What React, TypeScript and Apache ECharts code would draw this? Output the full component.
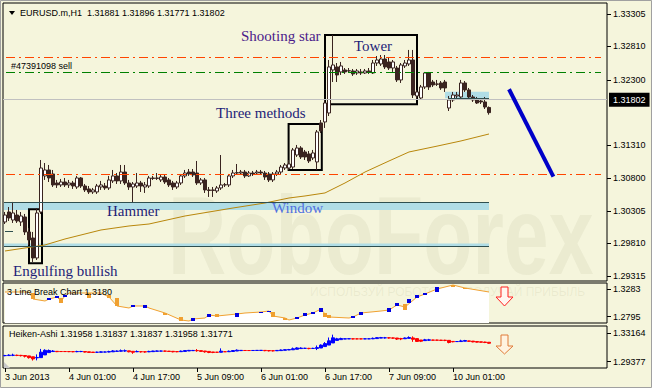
import React, { useEffect, useRef } from 'react';
import * as echarts from 'echarts';

// ---------- data ----------
const timeLabels = ['3 Jun 2013', '4 Jun 01:00', '4 Jun 17:00', '5 Jun 09:00', '6 Jun 01:00', '6 Jun 17:00', '7 Jun 09:00', '10 Jun 01:00'];
const LABEL_STEP = 16;
const SLOT_COUNT = 151;

// EURUSD H1 candles: [open, close, low, high]
const ohlc = [
  [1.30137, 1.30243, 1.30106, 1.30289], [1.30289, 1.30198, 1.30152, 1.30365], [1.30167, 1.30274, 1.30122, 1.30442],
  [1.30243, 1.30152, 1.30122, 1.30320], [1.30137, 1.30228, 1.30076, 1.30289], [1.30213, 1.29985, 1.29939, 1.30259],
  [1.29985, 1.29863, 1.29787, 1.30046], [1.29893, 1.29589, 1.29528, 1.29985], [1.29589, 1.30274, 1.29558, 1.30350],
  [1.30289, 1.30959, 1.30259, 1.31081], [1.30838, 1.30929, 1.30777, 1.31035], [1.30929, 1.30807, 1.30746, 1.31005],
  [1.30868, 1.30701, 1.30670, 1.30929], [1.30731, 1.30701, 1.30655, 1.30777], [1.30701, 1.30746, 1.30670, 1.30792],
  [1.30746, 1.30701, 1.30670, 1.30807], [1.30701, 1.30731, 1.30655, 1.30777], [1.30731, 1.30685, 1.30640, 1.30762],
  [1.30670, 1.30807, 1.30640, 1.30838], [1.30807, 1.30685, 1.30655, 1.30822], [1.30685, 1.30625, 1.30594, 1.30716],
  [1.30640, 1.30594, 1.30564, 1.30685], [1.30594, 1.30625, 1.30564, 1.30655], [1.30594, 1.30685, 1.30564, 1.30716],
  [1.30670, 1.30701, 1.30625, 1.30762], [1.30685, 1.30655, 1.30625, 1.30731], [1.30655, 1.30777, 1.30625, 1.30838],
  [1.30762, 1.30838, 1.30731, 1.30929], [1.30838, 1.30762, 1.30716, 1.30883], [1.30762, 1.30898, 1.30716, 1.31005],
  [1.30898, 1.30731, 1.30701, 1.31005], [1.30731, 1.30670, 1.30625, 1.30777], [1.30670, 1.30716, 1.30426, 1.30746],
  [1.30685, 1.30731, 1.30655, 1.30883], [1.30731, 1.30685, 1.30594, 1.30762], [1.30670, 1.30701, 1.30579, 1.30746],
  [1.30685, 1.30807, 1.30655, 1.30838], [1.30807, 1.30800, 1.30777, 1.30838], [1.30800, 1.30807, 1.30777, 1.30883],
  [1.30777, 1.30822, 1.30746, 1.30853], [1.30822, 1.30746, 1.30716, 1.30853], [1.30777, 1.30701, 1.30670, 1.30807],
  [1.30731, 1.30670, 1.30625, 1.30762], [1.30670, 1.30731, 1.30640, 1.30762], [1.30731, 1.30838, 1.30701, 1.30868],
  [1.30838, 1.30883, 1.30807, 1.30929], [1.30898, 1.30868, 1.30838, 1.30944], [1.30898, 1.30853, 1.30822, 1.30944],
  [1.30883, 1.30731, 1.30701, 1.31066], [1.30731, 1.30777, 1.30701, 1.30807], [1.30777, 1.30625, 1.30579, 1.30807],
  [1.30625, 1.30617, 1.30518, 1.30670], [1.30617, 1.30625, 1.30518, 1.30670], [1.30609, 1.30655, 1.30579, 1.30685],
  [1.30655, 1.30701, 1.30625, 1.31157], [1.30701, 1.30705, 1.30670, 1.30731], [1.30701, 1.30838, 1.30670, 1.30868],
  [1.30838, 1.30883, 1.30807, 1.30929], [1.30883, 1.30888, 1.30853, 1.31020], [1.30883, 1.30898, 1.30853, 1.30929],
  [1.30898, 1.30838, 1.30807, 1.30929], [1.30838, 1.30883, 1.30822, 1.30914], [1.30883, 1.30868, 1.30838, 1.30914],
  [1.30883, 1.30898, 1.30853, 1.30929], [1.30898, 1.30883, 1.30853, 1.30929], [1.30883, 1.30822, 1.30777, 1.30914],
  [1.30868, 1.30777, 1.30746, 1.30898], [1.30777, 1.30868, 1.30746, 1.30898], [1.30868, 1.30898, 1.30838, 1.30929],
  [1.30898, 1.30974, 1.30868, 1.31005], [1.30959, 1.31005, 1.30929, 1.31035], [1.30959, 1.31020, 1.30929, 1.31081],
  [1.30974, 1.31234, 1.30944, 1.31264], [1.31157, 1.31264, 1.31127, 1.31310], [1.31264, 1.31127, 1.31096, 1.31292],
  [1.31203, 1.31127, 1.31081, 1.31234], [1.31173, 1.31066, 1.31035, 1.31218], [1.31112, 1.31188, 1.31081, 1.31234],
  [1.31051, 1.31508, 1.30929, 1.31538], [1.31645, 1.31523, 1.31492, 1.31690], [1.31660, 1.31949, 1.31569, 1.31995],
  [1.31797, 1.32498, 1.31751, 1.32604], [1.32452, 1.32528, 1.32269, 1.32985], [1.32498, 1.32376, 1.32269, 1.32558],
  [1.32422, 1.32513, 1.32376, 1.32574], [1.32452, 1.32422, 1.32391, 1.32482], [1.32437, 1.32441, 1.32406, 1.32482],
  [1.32437, 1.32391, 1.32361, 1.32467], [1.32406, 1.32437, 1.32376, 1.32467], [1.32422, 1.32406, 1.32376, 1.32467],
  [1.32406, 1.32437, 1.32391, 1.32467], [1.32437, 1.32422, 1.32391, 1.32482], [1.32406, 1.32558, 1.32391, 1.32604],
  [1.32558, 1.32604, 1.32513, 1.32665], [1.32543, 1.32619, 1.32513, 1.32680], [1.32619, 1.32498, 1.32467, 1.32680],
  [1.32574, 1.32482, 1.32452, 1.32650], [1.32482, 1.32574, 1.32422, 1.32604], [1.32482, 1.32300, 1.32269, 1.32513],
  [1.32300, 1.32528, 1.32254, 1.32558], [1.32513, 1.32558, 1.32482, 1.32604], [1.32543, 1.32604, 1.32513, 1.32757],
  [1.32604, 1.32071, 1.32025, 1.32757], [1.32056, 1.32117, 1.32010, 1.32148], [1.32025, 1.32193, 1.31995, 1.32224],
  [1.32193, 1.32406, 1.32163, 1.32422], [1.32406, 1.32193, 1.32148, 1.32422], [1.32269, 1.32224, 1.32193, 1.32300],
  [1.32239, 1.32235, 1.32208, 1.32300], [1.32254, 1.32178, 1.32148, 1.32284], [1.32269, 1.32178, 1.32117, 1.32300],
  [1.31873, 1.31995, 1.31827, 1.32056], [1.31995, 1.32071, 1.31965, 1.32117], [1.32056, 1.32071, 1.32025, 1.32117],
  [1.32041, 1.32254, 1.32010, 1.32300], [1.32254, 1.32148, 1.32117, 1.32284], [1.32148, 1.32041, 1.32010, 1.32178],
  [1.32041, 1.31995, 1.31965, 1.32071], [1.32010, 1.31949, 1.31934, 1.32041], [1.31980, 1.31965, 1.31934, 1.32010],
  [1.31965, 1.31888, 1.31858, 1.32041], [1.31881, 1.31802, 1.31771, 1.31896],
];

// moving average (read at bar indices)
const maIndex = [0, 10, 15, 24, 31, 36, 45, 57, 65, 71, 75, 80, 82, 85, 90, 96, 101, 108, 114, 121];
const maValues = [1.29695, 1.29787, 1.29878, 1.30015, 1.30076, 1.30106, 1.30228, 1.30350, 1.30426, 1.30502,
  1.30533, 1.30579, 1.30640, 1.30731, 1.30898, 1.31066, 1.31203, 1.31292, 1.31371, 1.31477];

const priceTicks = [1.33305, 1.32810, 1.32300, 1.31310, 1.30800, 1.30305, 1.29810, 1.29315];
const lastPrice = 1.31802;
const redLevels = [1.32650, 1.30863];
const sellLevel = 1.32417;
// bands: [fromIndex, toIndex, top, bottom]
const cyanBands = [[-0.25, 121, 1.30442, 1.30320], [-0.25, 121, 1.29810, 1.29772], [110, 121, 1.32122, 1.32021]];
// dark lines: [fromIndex, toIndex, price]
const bandLines = [[-0.25, 121, 1.30442], [-0.25, 121, 1.29768], [110.75, 121, 1.32025], [0, 2, 1.30000]];
// pattern boxes: [fromIndex, toIndex, top, bottom]
const patternBoxes = [[6, 9.25, 1.30330, 1.29508], [70.9, 79.2, 1.31629, 1.30929], [80, 103, 1.32985, 1.31930]];
// forecast trend line: [index, price]
const trendLine = [[126, 1.32158], [137.1, 1.30827]];

// 3 Line Break panel
const lbIndex = [0, 6, 7, 10, 11, 13, 14, 15, 16, 24, 26, 28, 31, 32, 35, 36, 40, 44, 46, 47, 50, 51, 53, 58, 60, 64, 66, 67,
  70, 71, 73, 75, 77, 79, 80, 81, 86, 87, 89, 94, 96, 98, 100, 103, 105, 108, 111, 112, 115, 121];
const lbValues = [1.32349, 1.32349, 1.31102, 1.30746, 1.31102, 1.31458, 1.30746, 1.31636, 1.32171, 1.32171, 1.31458, 1.29856,
  1.29499, 1.29856, 1.29856, 1.29499, 1.28609, 1.27362, 1.27184, 1.27540, 1.27718, 1.28253, 1.28074, 1.28431, 1.28609,
  1.28787, 1.28965, 1.28074, 1.27718, 1.27362, 1.27718, 1.28253, 1.28609, 1.29321, 1.28431, 1.27896, 1.27718, 1.27896,
  1.28609, 1.28965, 1.29143, 1.30034, 1.29677, 1.31458, 1.31993, 1.32883, 1.33417, 1.33595, 1.33061, 1.32349];
// blocks: [index, top, bottom]
const lbUpBlocks = [[11, 1.31280, 1.30924], [13, 1.31636, 1.31280], [15, 1.31814, 1.31458], [32, 1.30034, 1.29677],
  [35, 1.30034, 1.29499], [47, 1.27718, 1.27184], [51, 1.28431, 1.27896], [58, 1.28609, 1.27896], [64, 1.28787, 1.28609],
  [66, 1.28965, 1.28787], [73, 1.27896, 1.27540], [75, 1.28609, 1.28074], [77, 1.28787, 1.28431], [79, 1.29499, 1.28787],
  [87, 1.28074, 1.27718], [89, 1.28787, 1.28253], [96, 1.29499, 1.28787], [98, 1.30390, 1.29856], [101, 1.31102, 1.30390],
  [103, 1.31814, 1.31280], [105, 1.32171, 1.31814], [108, 1.33239, 1.32349]];
const lbDownBlocks = [[7, 1.32171, 1.31102], [14, 1.31280, 1.30390], [21, 1.32171, 1.31280], [26, 1.31814, 1.31280],
  [28, 1.31280, 1.29856], [40, 1.28609, 1.28253], [44, 1.27896, 1.27184], [53, 1.28431, 1.27896], [67, 1.28787, 1.27896],
  [70, 1.27718, 1.27362], [80, 1.28609, 1.27896], [81, 1.28253, 1.27718], [100, 1.30212, 1.29143], [112, 1.33595, 1.33239],
  [115, 1.33061, 1.32883]];
const lbTicks = [1.3283, 1.2795];
const haTicks = [1.33164, 1.29377];

const BG = '#F5F5DC';
const SANS = 'Liberation Sans';
const SERIF = 'Liberation Serif';

export default function App() {
  const ref = useRef<HTMLDivElement>(null);
  useEffect(() => {
    if (!ref.current) return;
    document.body.style.margin = '0';
    const chart = echarts.init(ref.current, undefined, { renderer: 'svg' });

    const categories = Array.from({ length: SLOT_COUNT }, (_, i) =>
      i % LABEL_STEP === 0 && i / LABEL_STEP < timeLabels.length ? timeLabels[i / LABEL_STEP] : '');
    const showLabel = (_i: number, v: string) => v !== '';

    // Heiken-Ashi derived from the candles
    const ha: number[][] = [];
    let po = 0, pc = 0;
    ohlc.forEach(([o, c, l, h], i) => {
      const hc = (o + c + l + h) / 4;
      const ho = i === 0 ? (o + c) / 2 : (po + pc) / 2;
      ha.push([ho, hc, Math.min(l, ho, hc), Math.max(h, ho, hc)]);
      po = ho; pc = hc;
    });

    const blockRender = (color: string) => (params: any, api: any) => {
      const x = api.value(0);
      const a = api.coord([x, api.value(1)]);
      const b = api.coord([x, api.value(2)]);
      return { type: 'rect', shape: { x: a[0] - 2, y: a[1], width: 4, height: Math.max(1, b[1] - a[1]) }, style: { fill: color } };
    };

    const dashDot = [9, 4, 2, 4];
    const txt = (text: string, x: number, y: number, fill: string, fontSize: number, fontFamily: string, extra: any = {}) => ({
      type: 'text', x, y, z: 100, silent: true,
      style: { text, fill, fontSize, fontFamily, verticalAlign: 'middle', ...extra },
    });
    const yAxisBase = (grid: number, min: number, max: number, ticks: number[], digits: number) => ({
      type: 'value', gridIndex: grid, position: 'right', min, max, splitLine: { show: false },
      axisLine: { show: false, onZero: false },
      axisTick: { show: true, customValues: ticks, length: 4, lineStyle: { color: '#000' } },
      axisLabel: { customValues: ticks, formatter: (v: number) => v.toFixed(digits), margin: 6, fontSize: 9, fontFamily: SANS, color: '#000' },
    });

    const option: any = {
      animation: false,
      backgroundColor: BG,
      grid: [
        { left: 3, top: 3, width: 604, height: 278, show: true, borderColor: '#000', borderWidth: 1 },
        { left: 3, top: 283, width: 604, height: 40, show: true, borderColor: '#000', borderWidth: 1 },
        { left: 3, top: 326, width: 604, height: 42, show: true, borderColor: '#000', borderWidth: 1 },
      ],
      xAxis: [
        { type: 'category', gridIndex: 0, data: categories, show: false, boundaryGap: true },
        { type: 'value', gridIndex: 0, min: -0.5, max: SLOT_COUNT - 0.5, show: false },
        { type: 'value', gridIndex: 1, min: -0.5, max: SLOT_COUNT - 0.5, show: false },
        {
          type: 'category', gridIndex: 2, data: categories, boundaryGap: true, position: 'bottom',
          axisLine: { show: false, onZero: false },
          axisTick: { show: true, interval: showLabel, alignWithLabel: true, length: 4, lineStyle: { color: '#000' } },
          axisLabel: { interval: showLabel, align: 'left', margin: 4, fontSize: 9, fontFamily: SANS, color: '#000' },
          splitLine: { show: false },
        },
      ],
      yAxis: [
        yAxisBase(0, 1.29238, 1.33472, priceTicks, 5),
        yAxisBase(1, 1.26828, 1.33952, lbTicks, 4),
        yAxisBase(2, 1.28538, 1.34137, haTicks, 5),
      ],
      series: [
        // background bands + level lines
        {
          type: 'scatter', xAxisIndex: 1, yAxisIndex: 0, data: [[0, 1.31]], symbolSize: 0, z: 1, silent: true,
          markArea: {
            silent: true, z: 1,
            itemStyle: { color: '#B0DDE6' },
            data: cyanBands.map((b) => [{ xAxis: b[0], yAxis: b[2] }, { xAxis: b[1], yAxis: b[3] }]),
          },
          markLine: {
            silent: true, symbol: ['none', 'none'], label: { show: false },
            data: [
              ...bandLines.map((l) => [
                { coord: [l[0], l[2]], lineStyle: { color: '#2F4F4F', width: 1, type: 'solid' } },
                { coord: [l[1], l[2]] },
              ]),
              ...redLevels.map((p) => [
                { coord: [0.25, p], lineStyle: { color: '#FF4500', width: 1, type: dashDot } },
                { coord: [149, p] },
              ]),
              [
                { coord: [0.25, sellLevel], lineStyle: { color: '#008000', width: 1, type: dashDot } },
                { coord: [149, sellLevel] },
              ],
              {
                yAxis: lastPrice, lineStyle: { color: '#C0C0C0', width: 1, type: 'solid' },
                label: {
                  show: true, position: 'end', formatter: lastPrice.toFixed(5), distance: 2,
                  backgroundColor: '#000', color: '#fff', padding: [3, 4, 2, 4], fontSize: 9, fontFamily: SANS,
                },
              },
            ],
          },
        },
        {
          type: 'candlestick', xAxisIndex: 0, yAxisIndex: 0, data: ohlc, barWidth: 3, z: 3,
          itemStyle: { color: '#FFFFFF', color0: '#3A2420', borderColor: '#3A2420', borderColor0: '#3A2420', borderWidth: 1 },
        },
        {
          type: 'line', xAxisIndex: 1, yAxisIndex: 0, data: maIndex.map((x, i) => [x, maValues[i]]),
          symbol: 'none', z: 4, lineStyle: { color: '#B8860B', width: 1 },
        },
        // pattern boxes + forecast line
        {
          type: 'scatter', xAxisIndex: 1, yAxisIndex: 0, data: [[0, 1.31]], symbolSize: 0, z: 6, silent: true,
          markArea: {
            silent: true,
            itemStyle: { color: 'rgba(0,0,0,0)', borderColor: '#000', borderWidth: 2 },
            data: patternBoxes.map((b) => [{ xAxis: b[0], yAxis: b[2] }, { xAxis: b[1], yAxis: b[3] }]),
          },
          markLine: {
            silent: true, symbol: ['none', 'none'], label: { show: false },
            lineStyle: { color: '#0000C8', width: 4, type: 'solid' },
            data: [[{ coord: trendLine[0] }, { coord: trendLine[1] }]],
          },
        },
        // 3 line break
        {
          type: 'line', xAxisIndex: 2, yAxisIndex: 1, data: lbIndex.map((x, i) => [x, lbValues[i]]),
          symbol: 'none', z: 2, lineStyle: { color: '#F0A030', width: 1 },
          areaStyle: { color: '#FFFFFF', opacity: 1, origin: 'start' },
        },
        {
          type: 'custom', xAxisIndex: 2, yAxisIndex: 1, data: lbUpBlocks, z: 3,
          encode: { x: 0, y: [1, 2] }, renderItem: blockRender('#0000E0'),
        },
        {
          type: 'custom', xAxisIndex: 2, yAxisIndex: 1, data: lbDownBlocks, z: 3,
          encode: { x: 0, y: [1, 2] }, renderItem: blockRender('#F0A030'),
        },
        // Heiken-Ashi
        {
          type: 'candlestick', xAxisIndex: 3, yAxisIndex: 2, data: ha, barWidth: 3, z: 3,
          itemStyle: { color: '#0000FF', color0: '#FF0000', borderColor: '#0000FF', borderColor0: '#FF0000', borderWidth: 1 },
        },
      ],
      graphic: [
        {
          type: 'text', x: 168, y: 236, z: 0, silent: true, scaleX: 0.72,
          style: { text: 'RoboForex', fill: 'rgba(150,150,110,0.10)', fontSize: 112, fontWeight: 'bold', fontFamily: SANS, verticalAlign: 'middle' },
        },
        {
          type: 'text', x: 310, y: 292, z: 0, silent: true,
          style: { text: 'ИСПОЛЬЗУЙ РОБОТОВ — ПОЛУЧАЙ ПРИБЫЛЬ', fill: 'rgba(150,150,110,0.12)', fontSize: 12, fontFamily: SANS, verticalAlign: 'middle' },
        },
        { type: 'polygon', z: 100, silent: true, shape: { points: [[9, 11], [15, 11], [12, 15]] }, style: { fill: '#000' } },
        txt('EURUSD.m,H1  1.31881 1.31896 1.31771 1.31802', 20, 13, '#000', 9, SANS),
        txt('#47391098 sell', 11, 66, '#000', 9, SANS),
        txt('Shooting star', 241, 36, '#4B1A8A', 15, SERIF),
        txt('Tower', 354, 46, '#1E1E78', 15, SERIF),
        txt('Three methods', 216, 113, '#1E1E78', 15, SERIF),
        txt('Hammer', 107, 211, '#1E1E78', 15, SERIF),
        txt('Window', 272, 208, '#5070E0', 15, SERIF),
        txt('Engulfing bullish', 13, 271, '#1E1E78', 15, SERIF),
        txt('3 Line Break Chart 1.3180', 7, 292, '#000', 9, SANS),
        txt('Heiken-Ashi 1.31958 1.31837 1.31837 1.31958 1.31771', 9, 334, '#000', 9, SANS),
        {
          type: 'polygon', z: 100, silent: true,
          shape: { points: [[501, 287], [508, 287], [508, 297], [513, 297], [504.5, 306], [496, 297], [501, 297]] },
          style: { fill: '#FFF6F0', stroke: '#FF2020', lineWidth: 1 },
        },
        {
          type: 'polygon', z: 100, silent: true,
          shape: { points: [[501, 335], [508, 335], [508, 346], [513, 346], [504.5, 354], [496, 346], [501, 346]] },
          style: { fill: '#FFF3E0', stroke: '#E07B39', lineWidth: 1 },
        },
        { type: 'polygon', z: 100, silent: true, shape: { points: [[4, 362], [4, 368], [10, 368]] }, style: { fill: '#C8C8C8' } },
        { type: 'rect', z: 100, silent: true, shape: { x: 0.5, y: 0.5, width: 651, height: 387 }, style: { fill: 'none', stroke: '#A0A0A0', lineWidth: 1 } },
      ],
    };
    chart.setOption(option);
    return () => chart.dispose();
  }, []);
  return <div ref={ref} style={{ position: 'absolute', left: 0, top: 0, width: 652, height: 388 }} />;
}
